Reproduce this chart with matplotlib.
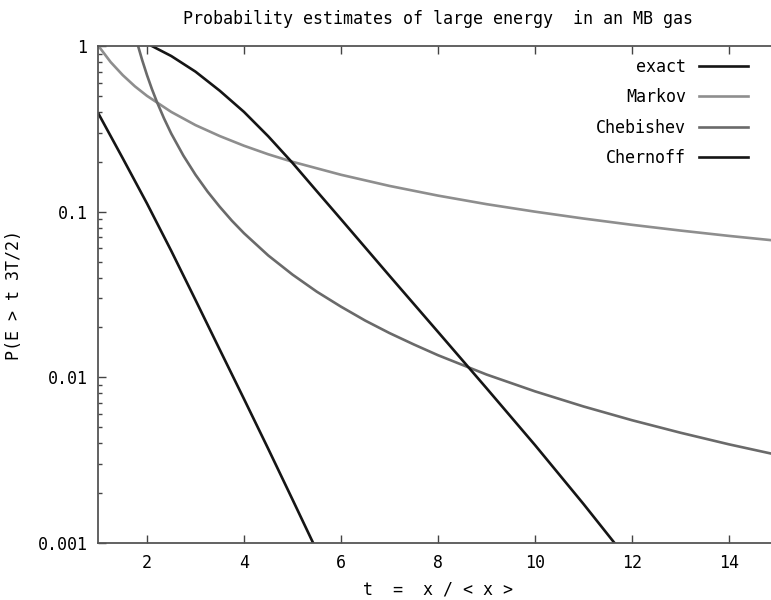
import matplotlib
matplotlib.use("Agg")
import matplotlib.pyplot as plt
from matplotlib.ticker import LogLocator, FixedLocator, FixedFormatter, NullFormatter

# t = x / <x>, probabilities on a log axis
exact_t = [1.0, 1.5, 2.0, 2.5, 3.0, 3.5, 4.0, 4.5, 5.0, 5.5]
exact_p = [0.39, 0.21, 0.112, 0.058, 0.0293, 0.0147, 0.0074, 0.0037, 0.00183, 0.0009]

markov_t = [1.0, 1.25, 1.5, 1.75, 2.0, 2.5, 3.0, 3.5, 4.0, 4.5, 5.0, 6.0, 7.0, 8.0,
            9.0, 10.0, 11.0, 12.0, 13.0, 14.0, 15.0]
markov_p = [1.0, 0.8, 0.667, 0.571, 0.5, 0.4, 0.333, 0.286, 0.25, 0.222, 0.2, 0.167,
            0.143, 0.125, 0.111, 0.1, 0.0909, 0.0833, 0.0769, 0.0714, 0.0667]

cheb_t = [1.816, 1.9, 2.0, 2.1, 2.2, 2.35, 2.5, 2.75, 3.0, 3.25, 3.5, 3.75, 4.0,
          4.5, 5.0, 5.5, 6.0, 6.5, 7.0, 7.5, 8.0, 9.0, 10.0, 11.0, 12.0, 13.0,
          14.0, 15.0]
cheb_p = [1.0, 0.823, 0.667, 0.551, 0.463, 0.366, 0.296, 0.218, 0.167, 0.132,
          0.107, 0.0882, 0.0741, 0.0544, 0.0417, 0.0329, 0.0267, 0.022, 0.0185,
          0.0158, 0.0136, 0.0104, 0.00823, 0.00667, 0.00551, 0.00463, 0.00394,
          0.0034]

chern_t = [2.1, 2.5, 3.0, 3.5, 4.0, 4.5, 5.0, 5.5, 6.0, 7.0, 8.0, 9.0, 10.0, 11.0, 11.7]
chern_p = [1.0, 0.87, 0.70, 0.537, 0.40, 0.285, 0.197, 0.133, 0.09, 0.041, 0.0188,
           0.0086, 0.0039, 0.00172, 0.00095]

x_ticks = [2, 4, 6, 8, 10, 12, 14]
y_ticks = [0.001, 0.01, 0.1, 1]
y_labels = ["0.001", "0.01", "0.1", "1"]

plt.rcParams['font.family'] = ['DejaVu Sans Mono', 'DejaVu Sans']

fig = plt.figure(figsize=(7.71, 6.0), dpi=100)
# right edge of the frame sits just past the canvas
ax = fig.add_axes([98.5 / 771, 57 / 600, 679 / 771, 497 / 600])

ax.plot(exact_t, exact_p, color="#151515", lw=1.9, label="exact")
ax.plot(markov_t, markov_p, color="#8e8e8e", lw=1.9, label="Markov")
ax.plot(cheb_t, cheb_p, color="#6a6a6a", lw=1.9, label="Chebishev")
ax.plot(chern_t, chern_p, color="#151515", lw=1.9, label="Chernoff")

ax.set_yscale("log")
ax.set_xlim(1, 15)
ax.set_ylim(0.001, 1)

ax.xaxis.set_major_locator(FixedLocator(x_ticks))
ax.yaxis.set_major_locator(FixedLocator(y_ticks))
ax.yaxis.set_major_formatter(FixedFormatter(y_labels))
ax.yaxis.set_minor_locator(LogLocator(base=10, subs=range(2, 10)))
ax.yaxis.set_minor_formatter(NullFormatter())

ax.tick_params(axis="both", which="major", direction="in", length=6, width=1,
               color="#444444", labelsize=12, top=True, pad=8)
ax.tick_params(axis="y", which="minor", direction="in", length=3, width=1,
               color="#444444")
for s in ax.spines.values():
    s.set_color("#555555")
    s.set_linewidth(1.3)

ax.set_title("Probability estimates of large energy  in an MB gas", fontsize=12, pad=16)
ax.set_xlabel("t  =  x / < x >", fontsize=12, labelpad=6)
ax.set_ylabel("P(E > t 3T/2)", fontsize=12, labelpad=10)

ax.legend(loc="upper right", frameon=False, markerfirst=False, fontsize=12,
          handlelength=2.9, labelspacing=0.75, borderaxespad=0.3,
          bbox_to_anchor=(0.973, 1.0))

fig.savefig("out.png", dpi=100)
